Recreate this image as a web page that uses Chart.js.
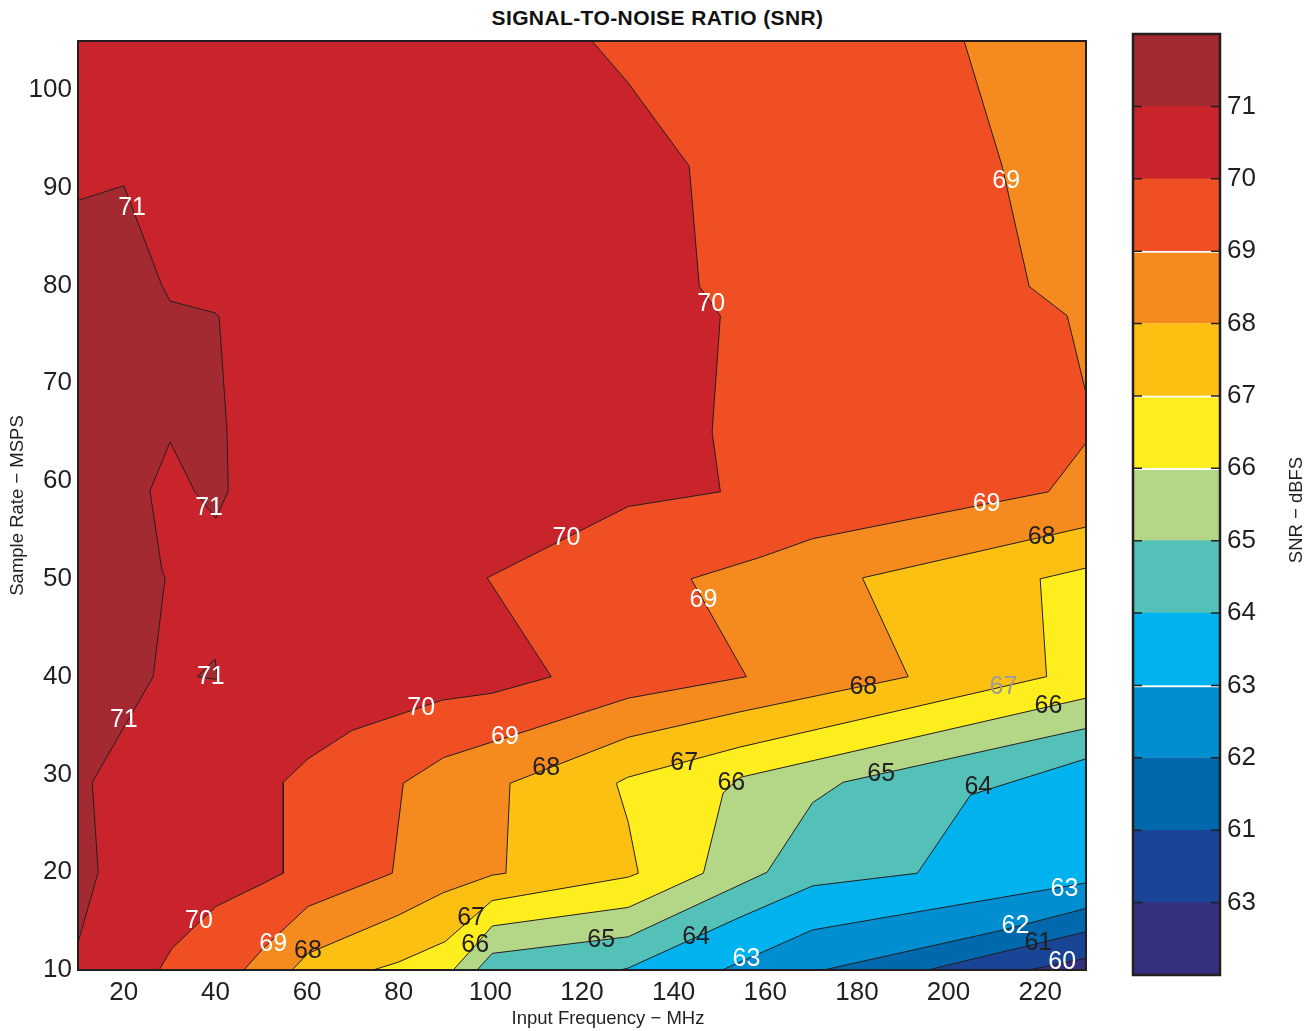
<!DOCTYPE html>
<html>
<head>
<meta charset="utf-8">
<script src="https://cdn.jsdelivr.net/npm/chart.js@4.4.1/dist/chart.umd.min.js"></script>
<style>
  body { margin: 0; background: #fff; font-family: "Liberation Sans", Arial, Helvetica, sans-serif; }
  #title { position: absolute; left: 0; top: 6px; width: 1315px; text-align: center;
           font-weight: bold; font-size: 21px; letter-spacing: 0.4px; color: #111; }
  #plot { position: absolute; left: 0; top: 0; }
  #bar { position: absolute; left: 1120px; top: 0; }
</style>
</head>
<body>
<div id="title">SIGNAL-TO-NOISE RATIO (SNR)</div>
<canvas id="plot" width="1120" height="1031"></canvas>
<canvas id="bar" width="195" height="1031"></canvas>
<script>
// axes
const xRange = [10, 230];
const yRange = [10, 105];
const xTickValues = [20, 40, 60, 80, 100, 120, 140, 160, 180, 200, 220];
const yTickValues = [10, 20, 30, 40, 50, 60, 70, 80, 90, 100];

// contour lines, [input freq MHz, sample rate MSPS]
const contour71 = [[10, 88.7], [20, 90.2], [28.3, 80.0], [30.1, 78.4], [39.9, 77.2], [40.8, 76.8],
  [42.5, 65.2], [42.8, 59.0], [40.1, 56.2], [35.5, 58.9], [30.1, 64.0], [25.7, 59.0], [28.3, 50.9],
  [29.0, 50.1], [26.4, 40.0], [13.1, 29.2], [14.4, 20.0], [10, 12.8]];
const contour71Island = [[36.0, 40.0], [39.9, 41.8], [40.6, 39.7], [36.0, 40.0]];
const contour70 = [[122.2, 105], [130.1, 100.7], [143.4, 92.2], [145.6, 79.9], [150.2, 76.9],
  [148.4, 65.0], [150.2, 58.9], [130.1, 57.4], [99.3, 50.1], [113.3, 40.0], [100.4, 38.3],
  [89.5, 37.6], [69.8, 34.5], [60.2, 31.6], [54.8, 29.2], [54.8, 19.9], [50.2, 18.8],
  [40.1, 16.5], [30.5, 12.2], [27.7, 10]];
const contour69 = [[203.4, 105], [211.7, 92.2], [217.6, 79.9], [225.9, 76.9], [230, 69.0],
  [230, 63.9], [221.8, 58.9], [203.4, 57.2], [170.3, 54.1], [158.9, 52.2], [143.8, 50.0],
  [155.9, 40.0], [130.1, 37.8], [89.7, 31.7], [81.0, 29.1], [78.6, 19.9], [60.2, 16.5],
  [50.4, 12.2], [46.2, 10]];
const contour68 = [[230, 55.3], [181.2, 50.1], [191.2, 40.0], [154.5, 36.4], [130.1, 33.8],
  [104.3, 29.1], [103.4, 19.9], [100.4, 19.7], [89.7, 17.9], [79.9, 15.6], [60.2, 11.7], [56.7, 10]];
const contour67 = [[230, 51.1], [220.0, 50.0], [221.4, 40.0], [154.5, 32.8], [129.9, 29.7],
  [127.5, 29.1], [130.1, 25.1], [132.3, 19.9], [130.1, 19.5], [100.4, 17.1], [90.1, 12.9],
  [79.9, 10.8], [74.4, 10]];
const contour66 = [[230, 37.8], [154.5, 29.7], [150.8, 28.1], [146.5, 19.9], [130.1, 16.4],
  [100.4, 14.5], [96.7, 12.5], [91.9, 10]];
const contour65 = [[230, 34.7], [177.0, 29.2], [170.3, 27.1], [160.4, 20.0], [130.1, 13.4],
  [100.4, 11.7], [97.1, 10]];
const contour64 = [[230, 31.6], [204.8, 27.9], [193.2, 19.9], [170.3, 18.6], [154.5, 15.4],
  [130.1, 10.2], [128.3, 10]];
const contour63 = [[230, 18.9], [170.3, 14.1], [150.6, 10]];
const contour62 = [[230, 16.3], [212.0, 14.1], [172.7, 10]];
const contour61 = [[230, 13.9], [195.4, 10]];
const contour60 = [[230, 11.2], [217.4, 10]];

// inline contour labels
const labelText = ['71', '71', '71', '71', '70', '70', '70', '70', '69', '69', '69', '69', '69',
  '68', '68', '68', '68', '67', '67', '67', '66', '66', '66', '65', '65', '64', '64',
  '63', '63', '62', '61', '60'];
const labelX = [21.8, 38.6, 39.0, 20.0, 148.2, 116.6, 84.9, 36.4, 212.6, 208.3, 146.5, 103.2, 52.6,
  220.3, 181.4, 112.2, 60.2, 212.0, 142.3, 95.8, 221.8, 152.6, 96.7, 185.3, 124.2, 206.5, 144.9,
  225.3, 155.9, 214.6, 219.6, 224.8];
const labelY = [87.9, 57.2, 40.0, 35.6, 78.1, 54.2, 36.8, 15.0, 90.7, 57.6, 47.8, 33.8, 12.6,
  54.3, 38.9, 30.6, 11.9, 38.9, 31.2, 15.3, 37.0, 29.1, 12.5, 30.0, 13.1, 28.7, 13.4,
  18.3, 11.1, 14.5, 12.8, 10.8];

// colour bar, bottom band first
const bandColors = ['#32307F', '#1A4597', '#0068AC', '#008ED0', '#00B2ED', '#53C1B8', '#B3D787',
  '#FEEE1D', '#FCC013', '#F58A1F', '#F04E23', '#C9232B', '#A32A30'];
const colorbarLabels = ['63', '61', '62', '63', '64', '65', '66', '67', '68', '69', '70', '71'];

const textColor = '#231F20';
const fontFamily = '"Liberation Sans", Arial, Helvetica, sans-serif';
Chart.defaults.font.family = fontFamily;

const [x0, x1] = xRange;
const [y0, y1] = yRange;

// close a line that runs to the bottom edge around the upper-left corner
function fromRightEdge(line) {
  return line.concat([[x0, y0], [x0, y1], [x1, y1]]);
}
function fromTopEdge(line) {
  return line.concat([[x0, y0], [x0, y1]]);
}

// first region is painted last (on top)
const regions = [
  { level: 71, pts: contour71Island },
  { level: 71, pts: contour71 },
  { level: 70, pts: fromTopEdge(contour70) },
  { level: 69, pts: fromTopEdge(contour69) },
  { level: 68, pts: fromRightEdge(contour68) },
  { level: 67, pts: fromRightEdge(contour67) },
  { level: 66, pts: fromRightEdge(contour66) },
  { level: 65, pts: fromRightEdge(contour65) },
  { level: 64, pts: fromRightEdge(contour64) },
  { level: 63, pts: fromRightEdge(contour63) },
  { level: 62, pts: fromRightEdge(contour62) },
  { level: 61, pts: fromRightEdge(contour61) },
  { level: 60, pts: fromRightEdge(contour60) },
];

const whiteLabels = ['71', '70', '69', '63', '62', '60'];
const fadedLabel = 17;

const plotDecor = {
  id: 'plotDecor',
  beforeDatasetsDraw(chart) {
    const { ctx, chartArea: a } = chart;
    ctx.save();
    ctx.fillStyle = bandColors[0];
    ctx.fillRect(a.left, a.top, a.right - a.left, a.bottom - a.top);
    ctx.restore();
  },
  afterDatasetsDraw(chart) {
    const { ctx, chartArea: a, scales } = chart;
    ctx.save();
    ctx.strokeStyle = textColor;
    ctx.lineWidth = 2;
    ctx.strokeRect(a.left, a.top, a.right - a.left, a.bottom - a.top);

    ctx.font = '25px ' + fontFamily;
    ctx.textAlign = 'center';
    ctx.textBaseline = 'middle';
    labelText.forEach((t, i) => {
      if (i === fadedLabel) ctx.fillStyle = '#9C9C9C';
      else ctx.fillStyle = whiteLabels.includes(t) ? '#fff' : textColor;
      ctx.fillText(t, scales.x.getPixelForValue(labelX[i]), scales.y.getPixelForValue(labelY[i]));
    });

    ctx.font = '18.5px ' + fontFamily;
    ctx.fillStyle = textColor;
    ctx.fillText('Input Frequency \u2212 MHz', 608, 1019);
    ctx.restore();
  }
};

new Chart(document.getElementById('plot'), {
  type: 'scatter',
  data: {
    datasets: regions.map(r => ({
      data: r.pts.map(([x, y]) => ({ x, y })),
      showLine: true,
      fill: 'shape',
      backgroundColor: bandColors[r.level - 59],
      borderColor: textColor,
      borderWidth: 1,
      pointRadius: 0,
      tension: 0,
    })),
  },
  options: {
    responsive: false,
    animation: false,
    events: [],
    layout: { padding: { top: 41, right: 34, left: 0, bottom: 0 } },
    plugins: { legend: { display: false }, tooltip: { enabled: false } },
    scales: {
      x: {
        type: 'linear', min: x0, max: x1,
        afterBuildTicks: s => { s.ticks = xTickValues.map(v => ({ value: v })); },
        afterFit: s => { s.height = 61; },
        grid: { display: false, drawTicks: false },
        border: { display: false },
        ticks: { padding: 7, color: textColor, font: { size: 26 } },
      },
      y: {
        type: 'linear', min: y0, max: y1,
        afterBuildTicks: s => { s.ticks = yTickValues.map(v => ({ value: v })); },
        afterFit: s => { s.width = 78; },
        grid: { display: false, drawTicks: false },
        border: { display: false },
        ticks: { padding: 6, color: textColor, font: { size: 26 } },
        title: { display: true, text: 'Sample Rate \u2212 MSPS', color: textColor,
                 font: { size: 18.5 }, padding: { top: 7, bottom: 0 } },
      },
    },
  },
  plugins: [plotDecor],
});

// colour bar
const whiteEdges = [3, 6, 7, 9];

const barDecor = {
  id: 'barDecor',
  afterDatasetsDraw(chart) {
    const { ctx, chartArea: a, scales } = chart;
    ctx.save();
    ctx.strokeStyle = textColor;
    ctx.lineWidth = 1.5;
    colorbarLabels.forEach((_, i) => {
      const y = scales.y.getPixelForValue(i + 1);
      ctx.beginPath();
      ctx.moveTo(a.left, y); ctx.lineTo(a.left + 9, y);
      ctx.moveTo(a.right - 9, y); ctx.lineTo(a.right, y);
      ctx.stroke();
    });
    ctx.lineWidth = 2.5;
    ctx.strokeRect(a.left, a.top, a.right - a.left, a.bottom - a.top);

    ctx.translate(177, 510);
    ctx.rotate(-Math.PI / 2);
    ctx.font = '18.5px ' + fontFamily;
    ctx.fillStyle = textColor;
    ctx.textAlign = 'center';
    ctx.textBaseline = 'middle';
    ctx.fillText('SNR \u2212 dBFS', 0, 0);
    ctx.restore();
  }
};

new Chart(document.getElementById('bar'), {
  type: 'bar',
  data: {
    labels: [''],
    datasets: bandColors.map((c, i) => ({
      data: [1],
      backgroundColor: c,
      borderColor: '#fff',
      borderWidth: whiteEdges.includes(i) ? { top: 2, right: 0, bottom: 0, left: 0 } : 0,
      borderSkipped: false,
      barPercentage: 1,
      categoryPercentage: 1,
    })),
  },
  options: {
    responsive: false,
    animation: false,
    events: [],
    layout: { padding: { left: 13, top: 34, bottom: 56, right: 0 } },
    plugins: { legend: { display: false }, tooltip: { enabled: false } },
    scales: {
      x: { display: false, stacked: true },
      y: {
        stacked: true, position: 'right', min: 0, max: bandColors.length,
        afterBuildTicks: s => { s.ticks = colorbarLabels.map((_, i) => ({ value: i + 1 })); },
        afterFit: s => { s.width = 95; },
        grid: { display: false, drawTicks: false },
        border: { display: false },
        ticks: { padding: 7, color: textColor, font: { size: 26 },
                 callback: v => colorbarLabels[v - 1] },
      },
    },
  },
  plugins: [barDecor],
});
</script>
</body>
</html>
